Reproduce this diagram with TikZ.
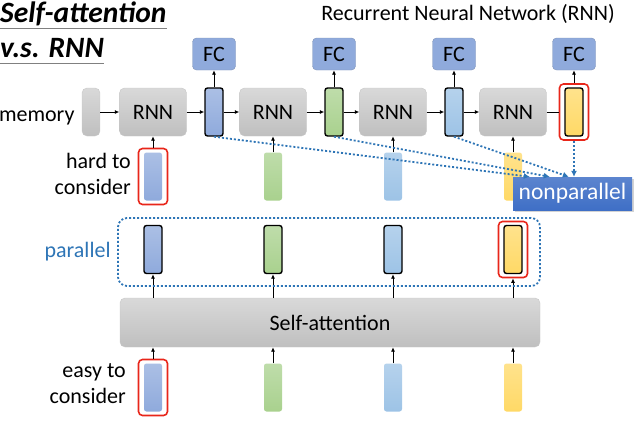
\documentclass[tikz,border=0pt]{standalone}
\usepackage{fontspec}
\setmainfont{Carlito}
\usetikzlibrary{arrows.meta, positioning, shadows}
\definecolor{vblue}{HTML}{8FAADC}
\definecolor{vgreen}{HTML}{A9D18E}
\definecolor{vsky}{HTML}{9DC3E6}
\definecolor{vyellow}{HTML}{FFD966}
\definecolor{dotblue}{HTML}{2E75B6}
\definecolor{npblue}{HTML}{3F6FC6}
\definecolor{redline}{HTML}{E8261A}

\begin{document}
\begin{tikzpicture}[x=1pt, y=-1pt, font=\fontsize{22}{26}\selectfont,
    box/.style={rounded corners=5pt, inner sep=0pt, draw=black!22,
        top color=black!15, bottom color=black!25},
    vec/.style={rounded corners=2.5pt, minimum width=18pt,
        minimum height=48pt, inner sep=0pt},
    hvec/.style={vec, draw=black, line width=1.4pt},
    fcbox/.style={rounded corners=4pt, draw=vblue!80!black!90, fill=vblue,
        minimum width=43pt, minimum height=32pt, inner sep=0pt},
    redbox/.style={draw=redline, line width=1.6pt, rounded corners=4pt,
        minimum width=29pt, minimum height=56pt},
    arr/.style={-{Latex[length=4.5pt,width=4pt]}, line width=0.9pt},
    dots/.style={draw=dotblue, dash pattern=on 2pt off 2pt, line width=1.8pt}]
    \useasboundingbox (0,0) rectangle (635,434);

    % titles
    \node[anchor=base west, inner sep=0pt,
        font=\fontsize{29.5}{32}\selectfont\bfseries\itshape] (title-1) at (0,22) {Self-attention};
    \node[anchor=base west, inner sep=0pt,
        font=\fontsize{29.5}{32}\selectfont\bfseries\itshape] (title-2) at (0,57) {v.s. RNN};
    \draw[gray, line width=1pt] (0,28) -- (title-1.base east |- 0,28);
    \draw[gray, line width=1pt] (0,63) -- (title-2.base east |- 0,63);
    \node[font=\fontsize{22}{26}\selectfont] (rnn-title) at (468,14) {Recurrent Neural Network (RNN)};

    % rnn row
    \node[box, minimum width=18pt, minimum height=48pt] (mem) at (91,112) {};
    \node[anchor=base east] (mem-lab) at (78,121) {memory};
    \foreach[count=\i] \col in {vblue,vgreen,vsky,vyellow} {
        \pgfmathsetmacro\cx{153+120*(\i-1)}
        \node[box, minimum width=67pt, minimum height=48pt] (rnn-\i) at (\cx,112) {RNN};
        \node[hvec, top color=\col!75!white, bottom color=\col] (h-\i) at (\cx+61,112) {};
        \node[fcbox] (fc-\i) at (\cx+61,54) {FC};
        \node[vec, top color=\col!75!white, bottom color=\col] (x-\i) at (\cx,176.5) {};
        \node[hvec, top color=\col!75!white, bottom color=\col] (p-\i) at (\cx,249.5) {};
        \node[vec, top color=\col!75!white, bottom color=\col] (e-\i) at (\cx,387.5) {};
    }
    \node[redbox] (red-h) at (h-4) {};
    \node[redbox] (red-x) at (x-1) {};
    \node[redbox] (red-p) at (p-4) {};
    \node[redbox] (red-e) at (e-1) {};

    \draw[arr] (mem) -- (rnn-1);
    \foreach \i/\j in {1/2,2/3,3/4} {
        \draw[arr] (rnn-\i) -- (h-\i);
        \draw[arr] (h-\i) -- (rnn-\j);
        \draw[arr] (h-\i) -- (fc-\i);
    }
    \draw[line width=0.9pt] (rnn-4) -- (red-h);
    \draw[arr] (red-h) -- (fc-4);
    \draw[arr] (red-x) -- (rnn-1);
    \foreach \i in {2,3,4} \draw[arr] (x-\i) -- (rnn-\i);

    \node[anchor=north east, align=right, inner sep=0pt] (hard-lab) at (131,153) {hard to\\consider};

    % self-attention
    \node[box, minimum width=420pt, minimum height=49pt] (sa) at (330,322.5) {Self-attention};
    \foreach \i in {1,2,3} \draw[arr] (p-\i.south |- sa.north) -- (p-\i);
    \draw[arr] (red-p.south |- sa.north) -- (red-p);
    \draw[arr] (red-e) -- (red-e.north |- sa.south);
    \foreach \i in {2,3,4} \draw[arr] (e-\i) -- (e-\i.north |- sa.south);
    \node[anchor=north east, align=right, inner sep=0pt] (easy-lab) at (126,363) {easy to\\consider};

    \node[dots, rounded corners=9pt, minimum width=422pt, minimum height=68pt] (par) at (329,252) {};
    \node[anchor=east, text=dotblue] (par-lab) at ([xshift=-3pt]par.west) {parallel};

    % nonparallel
    \node[top color=npblue!85!white, bottom color=npblue, text=white, minimum width=119pt,
        minimum height=33pt, inner sep=0pt, font=\fontsize{23.5}{26}\selectfont,
        drop shadow={opacity=0.35, shadow xshift=1.5pt, shadow yshift=-1.5pt}] (np) at (572.5,193.5) {nonparallel};
    \foreach \i/\dx in {1/17,2/37,3/56}
        \draw[dots, -{Latex[length=6pt,width=6pt]}] (h-\i.south) -- ([xshift=\dx pt]np.north west);
    \draw[dots, -{Latex[length=6pt,width=6pt]}] (red-h) -- (red-h.south |- np.north);
\end{tikzpicture}
\end{document}
